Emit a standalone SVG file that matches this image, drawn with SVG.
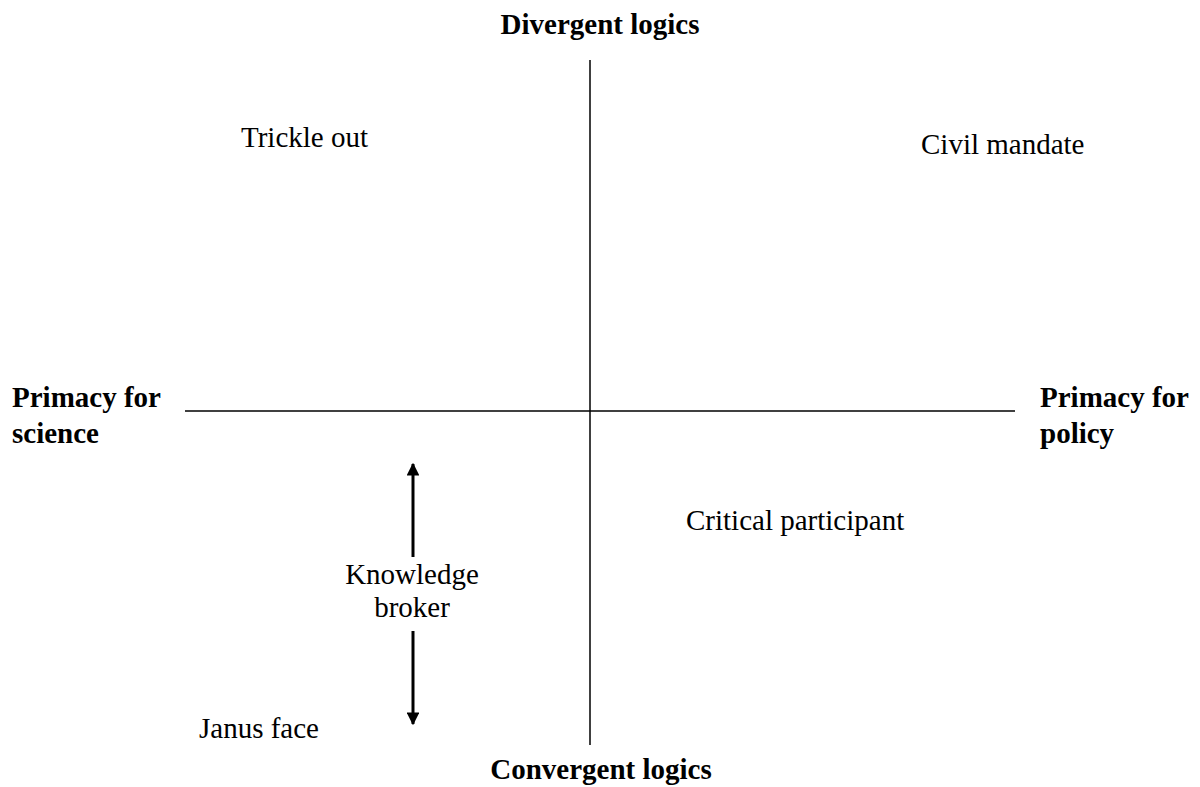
<svg xmlns="http://www.w3.org/2000/svg" width="1200" height="787" viewBox="0 0 1200 787">
  <style>
    text { font-family: "Liberation Serif", "Times New Roman", serif; font-size: 29px; fill: #000; }
    .bold { font-weight: bold; }
    .axis { stroke: #000; stroke-width: 1.5; fill: none; }
    .arrow { stroke: #000; stroke-width: 3; fill: none; }
  </style>
  <defs>
    <marker id="head" viewBox="0 0 10 10" refX="9" refY="5" markerWidth="4.3" markerHeight="4.3" orient="auto-start-reverse" markerUnits="strokeWidth">
      <path d="M0,0 L10,5 L0,10 z" fill="#000"/>
    </marker>
  </defs>

  <!-- axes and the broker's two-way arrow -->
  <g id="connectors">
    <line class="axis" x1="590" y1="60" x2="590" y2="745"/>
    <line class="axis" x1="185" y1="411" x2="1015" y2="411"/>
    <line class="arrow" x1="413" y1="557" x2="413" y2="464" marker-end="url(#head)"/>
    <line class="arrow" x1="413" y1="631" x2="413" y2="724" marker-end="url(#head)"/>
  </g>

  <!-- axis labels -->
  <g id="divergent"><text class="bold" x="600" y="34" text-anchor="middle">Divergent logics</text></g>
  <g id="convergent"><text class="bold" x="601" y="779" text-anchor="middle">Convergent logics</text></g>
  <g id="primacy-science">
    <text class="bold" x="12" y="407">Primacy for</text>
    <text class="bold" x="12" y="443">science</text>
  </g>
  <g id="primacy-policy">
    <text class="bold" x="1040" y="407">Primacy for</text>
    <text class="bold" x="1040" y="443">policy</text>
  </g>

  <!-- quadrant roles -->
  <g id="trickle-out"><text x="241" y="147">Trickle out</text></g>
  <g id="civil-mandate"><text x="921" y="154">Civil mandate</text></g>
  <g id="critical-participant"><text x="686" y="530">Critical participant</text></g>
  <g id="knowledge-broker">
    <text x="412" y="584" text-anchor="middle">Knowledge</text>
    <text x="412" y="617" text-anchor="middle">broker</text>
  </g>
  <g id="janus-face"><text x="199" y="738">Janus face</text></g>
</svg>
